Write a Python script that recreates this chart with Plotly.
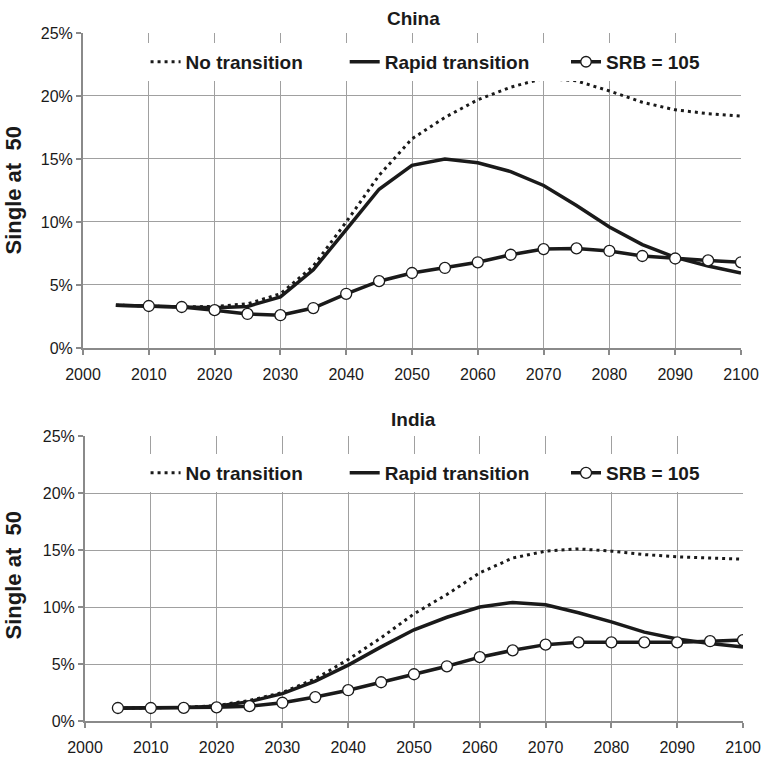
import plotly.graph_objects as go

# Years (5-year steps)
years = [2005, 2010, 2015, 2020, 2025, 2030, 2035, 2040, 2045, 2050,
         2055, 2060, 2065, 2070, 2075, 2080, 2085, 2090, 2095, 2100]

# China: share single at age 50 (%)
china_none = [3.4, 3.3, 3.25, 3.3, 3.5, 4.3, 6.5, 10.0, 13.7, 16.6,
              18.3, 19.7, 20.7, 21.4, 21.2, 20.4, 19.5, 18.9, 18.6, 18.4]
china_rapid = [3.4, 3.3, 3.25, 3.2, 3.3, 4.05, 6.2, 9.4, 12.6, 14.5,
               15.0, 14.7, 14.0, 12.9, 11.3, 9.6, 8.2, 7.2, 6.5, 5.95]
china_srb = [3.4, 3.33, 3.25, 3.0, 2.7, 2.6, 3.17, 4.3, 5.3, 5.95,
             6.35, 6.8, 7.4, 7.85, 7.9, 7.7, 7.3, 7.1, 6.95, 6.8]

# India: share single at age 50 (%)
india_none = [1.12, 1.14, 1.2, 1.35, 1.8, 2.5, 3.7, 5.4, 7.3, 9.4,
              11.1, 13.0, 14.3, 14.9, 15.1, 14.9, 14.6, 14.4, 14.3, 14.2]
india_rapid = [1.12, 1.14, 1.18, 1.3, 1.7, 2.4, 3.5, 4.9, 6.5, 8.0,
               9.1, 10.0, 10.4, 10.2, 9.5, 8.7, 7.8, 7.2, 6.8, 6.5]
india_srb = [1.14, 1.14, 1.15, 1.2, 1.3, 1.6, 2.1, 2.7, 3.4, 4.1,
             4.8, 5.6, 6.2, 6.7, 6.9, 6.9, 6.9, 6.9, 7.0, 7.1]

series_names = ["No transition", "Rapid transition", "SRB = 105"]
y_ticks = [0, 5, 10, 15, 20, 25]
y_tick_text = ["0%", "5%", "10%", "15%", "20%", "25%"]
x_ticks = list(range(2000, 2101, 10))

INK = "#1a1a1a"
GRID = "#a0a0a0"
AXIS = "#8a8a8a"
FONT = "Liberation Sans, Arial, sans-serif"
# trailing non-breaking spaces widen the gap between legend entries
PAD = ["&nbsp;" * 7, "&nbsp;" * 6, ""]

fig = go.Figure()


def label(i):
    return "<b>%s</b>%s" % (series_names[i], PAD[i])


def add_panel(none, rapid, srb, xa, ya, legend, srb_first_marker):
    fig.add_trace(go.Scatter(
        x=years, y=none, name=label(0), mode="lines",
        line=dict(color=INK, width=3, dash="3px,4px"),
        xaxis=xa, yaxis=ya, legend=legend))
    fig.add_trace(go.Scatter(
        x=years, y=rapid, name=label(1), mode="lines",
        line=dict(color=INK, width=3.5),
        xaxis=xa, yaxis=ya, legend=legend))
    sizes = [11] * len(years)
    if not srb_first_marker:
        sizes[0] = 0
    fig.add_trace(go.Scatter(
        x=years, y=srb, name=label(2), mode="lines+markers",
        line=dict(color=INK, width=3.5),
        marker=dict(size=sizes, color="#ffffff", opacity=1,
                    line=dict(color=INK, width=1.3)),
        xaxis=xa, yaxis=ya, legend=legend))


add_panel(china_none, china_rapid, china_srb, "x", "y", "legend", False)
add_panel(india_none, india_rapid, india_srb, "x2", "y2", "legend2", True)

xcommon = dict(range=[2000, 2100], tickvals=x_ticks, showgrid=True,
               gridcolor=GRID, gridwidth=1.2, showline=True, linecolor=AXIS,
               linewidth=2, ticks="outside", ticklen=5, tickcolor=AXIS,
               tickwidth=1.5, ticklabelstandoff=6, automargin=False,
               tickfont=dict(family=FONT, size=16, color=INK),
               zeroline=False)
ycommon = dict(range=[0, 25], tickvals=y_ticks, ticktext=y_tick_text,
               showgrid=True, gridcolor=GRID, gridwidth=1.2, showline=True,
               linecolor=AXIS, linewidth=2, ticks="outside", ticklen=5,
               tickcolor=AXIS, tickwidth=1.5, automargin=False,
               tickfont=dict(family=FONT, size=16, color=INK),
               zeroline=False)

legend_common = dict(orientation="h", bgcolor="white", borderwidth=0,
                     font=dict(family=FONT, size=19, color=INK),
                     xanchor="left", yanchor="middle",
                     itemclick=False, itemdoubleclick=False)

fig.update_layout(
    width=762, height=757,
    margin=dict(l=83, r=19, t=33, b=36, autoexpand=False),
    paper_bgcolor="white", plot_bgcolor="white",
    showlegend=True,
    xaxis=dict(domain=[0, 658 / 660], anchor="y", **xcommon),
    yaxis=dict(domain=[0.5422, 1.0], anchor="x", **ycommon),
    xaxis2=dict(domain=[2 / 660, 1.0], anchor="y2", **xcommon),
    yaxis2=dict(domain=[0.0, 0.4142], anchor="x2", **ycommon),
    legend=dict(x=0.0948, y=0.958, **legend_common),
    legend2=dict(x=0.0948, y=0.3605, **legend_common),
    annotations=[
        dict(text="<b>China</b>", x=0.5, y=1.0, xref="paper", yref="paper",
             xanchor="center", yanchor="bottom", yshift=2, showarrow=False,
             font=dict(family=FONT, size=19, color=INK)),
        dict(text="<b>India</b>", x=0.5, y=0.4142, xref="paper",
             yref="paper", xanchor="center", yanchor="bottom", yshift=4,
             showarrow=False, font=dict(family=FONT, size=19, color=INK)),
        dict(text="<b>Single at&nbsp; 50</b>", x=-0.1046, y=0.771,
             xref="paper", yref="paper", xanchor="center", yanchor="middle",
             textangle=-90, showarrow=False,
             font=dict(family=FONT, size=22, color=INK)),
        dict(text="<b>Single at&nbsp; 50</b>", x=-0.1046, y=0.2115,
             xref="paper", yref="paper", xanchor="center", yanchor="middle",
             textangle=-90, showarrow=False,
             font=dict(family=FONT, size=22, color=INK)),
    ],
)

fig.write_html("out.html")
